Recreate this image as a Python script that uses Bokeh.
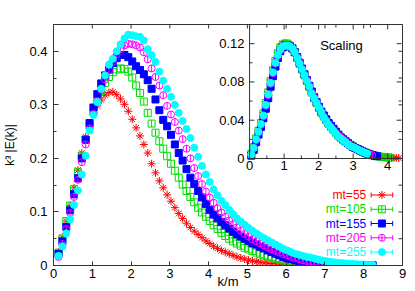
import math
from bokeh.plotting import figure
from bokeh.models import Range1d, FixedTicker
from bokeh.core.properties import value
from bokeh.embed import file_html
from bokeh.resources import INLINE

# ---------------- data ----------------
K = [0.13, 0.23, 0.33, 0.43, 0.53, 0.63, 0.73, 0.83, 0.93, 1.03,
     1.13, 1.23, 1.33, 1.43, 1.53, 1.63, 1.73, 1.83, 1.93, 2.03,
     2.13, 2.23, 2.33, 2.43, 2.53, 2.63, 2.73, 2.83, 2.93, 3.03,
     3.13, 3.23, 3.33, 3.43, 3.53, 3.63, 3.73, 3.83, 3.93, 4.03,
     4.13, 4.23, 4.33, 4.43, 4.53, 4.63, 4.73, 4.83, 4.93, 5.03,
     5.13, 5.23, 5.33, 5.43, 5.53, 5.63, 5.73, 5.83, 5.93, 6.03,
     6.13, 6.23, 6.33, 6.43, 6.53, 6.63, 6.73, 6.83, 6.93, 7.03,
     7.13, 7.23, 7.33, 7.43, 7.53, 7.63, 7.73, 7.83, 7.93, 8.03,
     8.13, 8.23]

E55 = [.025, .053, .083, .112, .145, .178, .210, .240, .265, .285,
       .298, .309, .318, .323, .324, .319, .311, .301, .288, .273,
       .257, .242, .226, .210, .190, .173, .158, .145, .132, .120,
       .108, .097, .088, .079, .071, .064, .058, .052, .046, .041,
       .036, .032, .028, .025, .022, .019, .016, .014, .012, .010,
       .0085, .0072, .0061, .0052, .0044, .0037, .0031, .0026, .0022, .0019,
       .0016, .0014, .0012, .0010, .0009, .0008, .0007, .0006, .0005, .0005,
       .0004, .0004, .0003, .0003, .0003, .0002, .0002, .0002, .0002, .0001,
       .0001, .0001]

E105 = [.024, .050, .083, .112, .143, .175, .205, .235, .262, .287,
        .308, .326, .341, .352, .361, .366, .368, .367, .362, .351,
        .336, .322, .306, .285, .265, .248, .232, .218, .204, .190,
        .177, .164, .151, .139, .128, .118, .108, .099, .091, .083,
        .075, .068, .061, .055, .050, .045, .041, .037, .033, .030,
        .027, .024, .021, .019, .017, .015, .013, .011, .0095, .0080,
        .0068, .0057, .0048, .0040, .0034, .0028, .0024, .0020, .0017, .0014,
        .0012, .0010, .0009, .0008, .0007, .0006, .0005, .0004, .0004, .0003,
        .0003, .0002]

E155 = [.022, .045, .072, .103, .133, .163, .200, .235, .266, .295,
        .320, .340, .355, .366, .378, .387, .393, .393, .389, .381,
        .372, .365, .357, .346, .330, .310, .290, .272, .260, .244,
        .226, .210, .196, .180, .164, .152, .139, .127, .115, .104,
        .095, .088, .081, .075, .069, .063, .058, .054, .050, .046,
        .042, .039, .035, .032, .028, .025, .022, .019, .016, .014,
        .012, .010, .0083, .0068, .0055, .0045, .0037, .0030, .0025, .0020,
        .0017, .0014, .0012, .0010, .0009, .0008, .0007, .0006, .0005, .0004,
        .0003, .0003]

E205 = [.016, .040, .068, .098, .128, .160, .193, .226, .256, .283,
        .307, .328, .347, .364, .380, .394, .404, .411, .414, .413,
        .411, .407, .398, .385, .368, .352, .336, .318, .298, .282,
        .268, .252, .236, .218, .200, .182, .167, .152, .138, .127,
        .117, .107, .099, .091, .084, .077, .071, .065, .059, .054,
        .049, .045, .041, .037, .033, .030, .027, .024, .021, .019,
        .016, .014, .012, .010, .0082, .0066, .0053, .0043, .0035, .0028,
        .0023, .0019, .0016, .0013, .0011, .0009, .0008, .0007, .0006, .0005,
        .0004, .0003]

E255 = [.018, .036, .060, .086, .113, .140, .170, .205, .252, .281,
        .305, .330, .355, .375, .386, .400, .413, .424, .431, .430,
        .428, .427, .420, .404, .393, .380, .362, .345, .330, .315,
        .300, .285, .270, .255, .238, .220, .203, .186, .170, .156,
        .142, .131, .121, .113, .104, .096, .088, .082, .076, .070,
        .065, .060, .055, .051, .047, .043, .039, .035, .031, .028,
        .025, .022, .020, .018, .016, .015, .013, .011, .0095, .0082,
        .0070, .0060, .0052, .0045, .0039, .0034, .0029, .0025, .0021, .0018,
        .0015, .0012]

# inset (scaled) data
IX = [0.05, 0.12, 0.19, 0.26, 0.33, 0.40, 0.47, 0.54, 0.61, 0.68,
      0.75, 0.82, 0.89, 0.96, 1.03, 1.10, 1.17, 1.24, 1.31, 1.38,
      1.45, 1.52, 1.59, 1.66, 1.73, 1.80, 1.87, 1.94, 2.01, 2.08,
      2.15, 2.22, 2.29, 2.36, 2.43, 2.50, 2.57, 2.64, 2.71, 2.78,
      2.85, 2.92, 2.99, 3.06, 3.13, 3.20, 3.27, 3.34, 3.41, 3.48,
      3.55, 3.62, 3.69, 3.76, 3.83, 3.90, 3.97, 4.04, 4.11, 4.18,
      4.25, 4.32]

S255 = [.004, .011, .020, .028, .036, .045, .056, .067, .079, .090,
        .100, .108, .114, .117, .118, .118, .117, .115, .111, .105,
        .099, .093, .087, .081, .075, .068, .063, .058, .053, .048,
        .043, .039, .035, .032, .029, .026, .023, .021, .019, .017,
        .015, .013, .012, .011, .0095, .0082, .0070, .0060, .0050]

S205 = [.004, .011, .019, .027, .035, .044, .055, .066, .078, .089,
        .099, .107, .113, .117, .118, .118, .117, .115, .111, .106,
        .100, .094, .088, .082, .076, .069, .064, .059, .054, .049,
        .044, .040, .036, .033, .030, .027, .024, .022, .020, .018,
        .016, .014, .012, .011, .0098, .0085, .0073, .0062, .0052, .0043,
        .0035]

S155 = [.003, .009, .017, .025, .033, .042, .052, .063, .075, .086,
        .096, .105, .112, .116, .118, .118, .117, .115, .111, .106,
        .100, .094, .088, .082, .076, .070, .064, .059, .054, .049,
        .045, .041, .037, .034, .031, .028, .025, .022, .020, .018,
        .016, .014, .012, .011, .0098, .0085, .0073, .0062, .0052, .0043,
        .0035, .0029, .0024]

S105 = [.005, .012, .021, .029, .037, .047, .058, .069, .081, .092,
        .102, .110, .116, .119, .120, .120, .118, .115, .111, .105,
        .099, .093, .087, .081, .075, .069, .063, .058, .053, .048,
        .044, .040, .036, .033, .030, .027, .024, .022, .020, .018,
        .016, .014, .013, .011, .0098, .0085, .0073, .0062, .0052, .0043,
        .0036, .0030, .0025, .0021, .0017, .0014, .0012, .0010]

S55 = [.005, .012, .021, .030, .038, .048, .059, .070, .082, .093,
       .103, .111, .117, .120, .121, .120, .118, .115, .110, .104,
       .098, .092, .086, .080, .074, .068, .062, .057, .052, .047,
       .043, .039, .035, .032, .029, .026, .023, .021, .019, .017,
       .015, .013, .012, .011, .0098, .0085, .0073, .0062, .0052, .0043,
       .0036, .0030, .0025, .0021, .0017, .0014, .0012, .0010, .0008, .0007,
       .0006, .0005]

LABELS = ["mt=55", "mt=105", "mt=155", "mt=205", "mt=255"]

X_TICKS = [0, 1, 2, 3, 4, 5, 6, 7, 8, 9]
Y_TICKS = [0, 0.1, 0.2, 0.3, 0.4]
Y_LABELS = ["0", "0.1", "0.2", "0.3", "0.4"]
Y_MINOR = [0.05, 0.15, 0.25, 0.35, 0.45]
Y_RIGHT = [0, 0.05, 0.1, 0.15, 0.2, 0.25, 0.3, 0.35, 0.4, 0.45]

IX_TICKS = [0, 1, 2, 3, 4]
IX_LABELS = ["0", "1", "2", "3", "4"]
IX_MINOR = [0.5, 1.5, 2.5, 3.5]
IY_TICKS = [0, 0.04, 0.08, 0.12]
IY_LABELS = ["0", "0.04", "0.08", "0.12"]
IY_MINOR = [0.02, 0.06, 0.10]

# ---------------- styles / layout ----------------
RED, GREEN, BLUE, MAG, CYAN = "#ff0000", "#00dd00", "#0000ff", "#ff00ff", "#00ffff"
FONT = "Liberation Sans"
AXC = "#333333"

W, H = 415, 291
FL, FR, FT, FB = 46, 402, 24, 265      # main frame, page px
IL, IR, IT, IB = 246, 401, 24, 158     # inset frame, page px
XR = (0, 9)
YR = (0, 0.45)
IXR = (0, 4.4)
IYR = (0, 0.14)

p = figure(width=W, height=H, output_backend="svg", toolbar_location=None,
           x_range=Range1d(*XR), y_range=Range1d(*YR),
           min_border_left=FL, min_border_right=W - FR,
           min_border_top=FT, min_border_bottom=H - FB)
p.background_fill_color = "white"
p.border_fill_color = "white"
p.outline_line_color = AXC
p.grid.visible = False

for ax in (p.xaxis[0], p.yaxis[0]):
    ax.axis_line_color = AXC
    ax.major_tick_line_color = AXC
    ax.minor_tick_line_color = AXC
    ax.major_tick_out = 0
    ax.minor_tick_out = 0
    ax.major_label_text_font = FONT
    ax.major_label_text_font_size = "13px"
    ax.major_label_text_color = "black"
    ax.axis_label_text_font = FONT
    ax.axis_label_text_font_style = "normal"
    ax.axis_label_text_color = "black"

p.xaxis.ticker = FixedTicker(ticks=X_TICKS)
p.xaxis.major_tick_in = 4
p.xaxis.minor_tick_line_color = None
p.xaxis.major_label_standoff = 3
p.xaxis.axis_label = "k/m"
p.xaxis.axis_label_text_font_size = "13px"
p.xaxis.axis_label_standoff = -7

p.yaxis.ticker = FixedTicker(ticks=Y_TICKS, minor_ticks=Y_MINOR)
p.yaxis.major_label_overrides = {t: l for t, l in zip(Y_TICKS, Y_LABELS)}
p.yaxis.major_tick_in = 5
p.yaxis.minor_tick_in = 3
p.yaxis.major_label_standoff = 6
p.yaxis.axis_label = "k³ |E(k)|"
p.yaxis.axis_label_text_font_size = "12px"
p.yaxis.axis_label_standoff = 9

# mirrored ticks on the top and right edges of the main frame
sxm = (FR - FL) / (XR[1] - XR[0])
sym = (FB - FT) / (YR[1] - YR[0])
mrn = dict(line_color=AXC, line_width=1)
p.segment(x0=X_TICKS, y0=[YR[1]] * len(X_TICKS), x1=X_TICKS, y1=[YR[1] - 4 / sym] * len(X_TICKS), **mrn)
p.segment(x0=[XR[1]] * len(Y_RIGHT), y0=Y_RIGHT, x1=[XR[1] - 4 / sxm] * len(Y_RIGHT), y1=Y_RIGHT, **mrn)

# extra ranges: inset data ranges and page-pixel ranges
sx = (IR - IL) / (IXR[1] - IXR[0])
sy = (IB - IT) / (IYR[1] - IYR[0])
p.extra_x_ranges["ix"] = Range1d(IXR[0] - (IL - FL) / sx, IXR[1] + (FR - IR) / sx)
p.extra_y_ranges["iy"] = Range1d(IYR[0] - (FB - IB) / sy, IYR[1] + (IT - FT) / sy)
p.extra_x_ranges["px"] = Range1d(FL, FR)
p.extra_y_ranges["py"] = Range1d(FB, FT)

SERIES = [
    (LABELS[0], E55, S55, "asterisk", RED, False, 8),
    (LABELS[1], E105, S105, "square", GREEN, False, 7),
    (LABELS[2], E155, S155, "square", BLUE, True, 7),
    (LABELS[3], E205, S205, "circle", MAG, False, 7),
    (LABELS[4], E255, S255, "circle", CYAN, True, 7),
]


def draw(xs, ys, marker, color, filled, size, **rn):
    p.scatter(xs, ys, marker=marker, size=size, line_color=color,
              fill_color=color if filled else None, line_width=1, **rn)
    if not filled and marker != "asterisk":
        p.scatter(xs, ys, marker="dash", angle=math.pi / 2, size=size,
                  line_color=color, line_width=1, **rn)


for name, E, S, m, c, f, sz in SERIES:
    draw(K, E, m, c, f, sz)

# ---------------- inset ----------------
for name, E, S, m, c, f, sz in SERIES:
    draw(IX[:len(S)], S, m, c, f, sz, x_range_name="ix", y_range_name="iy")

irn = dict(x_range_name="ix", y_range_name="iy", line_color=AXC, line_width=1)
p.segment(x0=[IXR[0], IXR[0]], y0=[IYR[0], IYR[0]], x1=[IXR[0], IXR[1]], y1=[IYR[1], IYR[0]], **irn)
maj_y, min_y = 5 / sy, 3 / sy
maj_x, min_x = 5 / sx, 3 / sx
p.segment(x0=IX_TICKS, y0=[IYR[0]] * len(IX_TICKS), x1=IX_TICKS, y1=[IYR[0] + maj_y] * len(IX_TICKS), **irn)
p.segment(x0=IX_TICKS, y0=[IYR[1]] * len(IX_TICKS), x1=IX_TICKS, y1=[IYR[1] - maj_y] * len(IX_TICKS), **irn)
p.segment(x0=IX_MINOR, y0=[IYR[0]] * len(IX_MINOR), x1=IX_MINOR, y1=[IYR[0] + min_y] * len(IX_MINOR), **irn)
p.segment(x0=IX_MINOR, y0=[IYR[1]] * len(IX_MINOR), x1=IX_MINOR, y1=[IYR[1] - min_y] * len(IX_MINOR), **irn)
p.segment(x0=[IXR[0]] * len(IY_TICKS), y0=IY_TICKS, x1=[IXR[0] + maj_x] * len(IY_TICKS), y1=IY_TICKS, **irn)
p.segment(x0=[IXR[1]] * len(IY_TICKS), y0=IY_TICKS, x1=[IXR[1] - maj_x] * len(IY_TICKS), y1=IY_TICKS, **irn)
p.segment(x0=[IXR[0]] * len(IY_MINOR), y0=IY_MINOR, x1=[IXR[0] + min_x] * len(IY_MINOR), y1=IY_MINOR, **irn)
p.segment(x0=[IXR[1]] * len(IY_MINOR), y0=IY_MINOR, x1=[IXR[1] - min_x] * len(IY_MINOR), y1=IY_MINOR, **irn)
p.text(x=[IXR[0]] * len(IY_TICKS), y=IY_TICKS, text=IY_LABELS, x_offset=-5,
       text_align="right", text_baseline="middle", text_font=value(FONT),
       text_font_size="13px", text_color="black", x_range_name="ix", y_range_name="iy")
p.text(x=IX_TICKS, y=[IYR[0]] * len(IX_TICKS), text=IX_LABELS, y_offset=2,
       text_align="center", text_baseline="top", text_font=value(FONT),
       text_font_size="13px", text_color="black", x_range_name="ix", y_range_name="iy")
p.text(x=[318], y=[45], text=["Scaling"], text_align="left", text_baseline="middle",
       text_font=value(FONT), text_font_size="13px", text_color="black",
       x_range_name="px", y_range_name="py")

# ---------------- legend (manual, gnuplot style) ----------------
LY = [194.5, 208.8, 223.0, 237.3, 251.6]
LX_TEXT, LX0, LX1 = 365, 370, 392
for (name, E, S, m, c, f, sz), ly in zip(SERIES, LY):
    p.text(x=[LX_TEXT], y=[ly], text=[name], text_align="right", text_baseline="middle",
           text_font=value(FONT), text_font_size="12px", text_color=c,
           x_range_name="px", y_range_name="py")
    p.segment(x0=[LX0, LX0, LX1], y0=[ly, ly - 2.5, ly - 2.5], x1=[LX1, LX0, LX1], y1=[ly, ly + 2.5, ly + 2.5],
              line_color=c, line_width=1, x_range_name="px", y_range_name="py")
    draw([(LX0 + LX1) / 2], [ly], m, c, f, sz, x_range_name="px", y_range_name="py")

open("out.html", "w").write(file_html(p, INLINE))
